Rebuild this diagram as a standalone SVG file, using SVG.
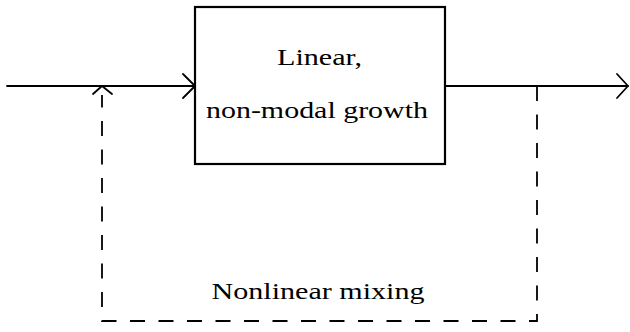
<svg xmlns="http://www.w3.org/2000/svg" width="630" height="332" viewBox="0 0 630 332">
<style>
.ln{stroke:#000;stroke-width:1.8;fill:none;stroke-linecap:round;stroke-linejoin:round}
.dash{stroke:#000;stroke-width:1.8;fill:none;stroke-dasharray:15 13.5}
.box{stroke:#000;stroke-width:2.2;fill:#fff}
.t{font-family:"Liberation Serif","DejaVu Serif",serif;font-size:23px;fill:#000;text-anchor:middle}
</style>
<rect width="630" height="332" fill="#fff"/>
<g id="connectors">
<path class="ln" d="M7,86 H195"/>
<path class="ln" d="M183,74 L195,86 L183,98"/>
<path class="ln" d="M445,86 H628"/>
<path class="ln" d="M617,74 L628,86 L617,98"/>
<path class="dash" d="M537,86 V321 H102 V95"/>
<path class="ln" d="M93,94 L102,86 L112,94"/>
</g>
<g id="node-linear">
<rect class="box" x="195" y="7" width="250" height="157"/>
<text class="t" x="319.5" y="65" textLength="85" lengthAdjust="spacingAndGlyphs">Linear,</text>
<text class="t" x="317" y="118" textLength="222" lengthAdjust="spacingAndGlyphs">non-modal growth</text>
</g>
<g id="label-nonlinear">
<text class="t" x="318" y="299" textLength="213" lengthAdjust="spacingAndGlyphs">Nonlinear mixing</text>
</g>
</svg>
